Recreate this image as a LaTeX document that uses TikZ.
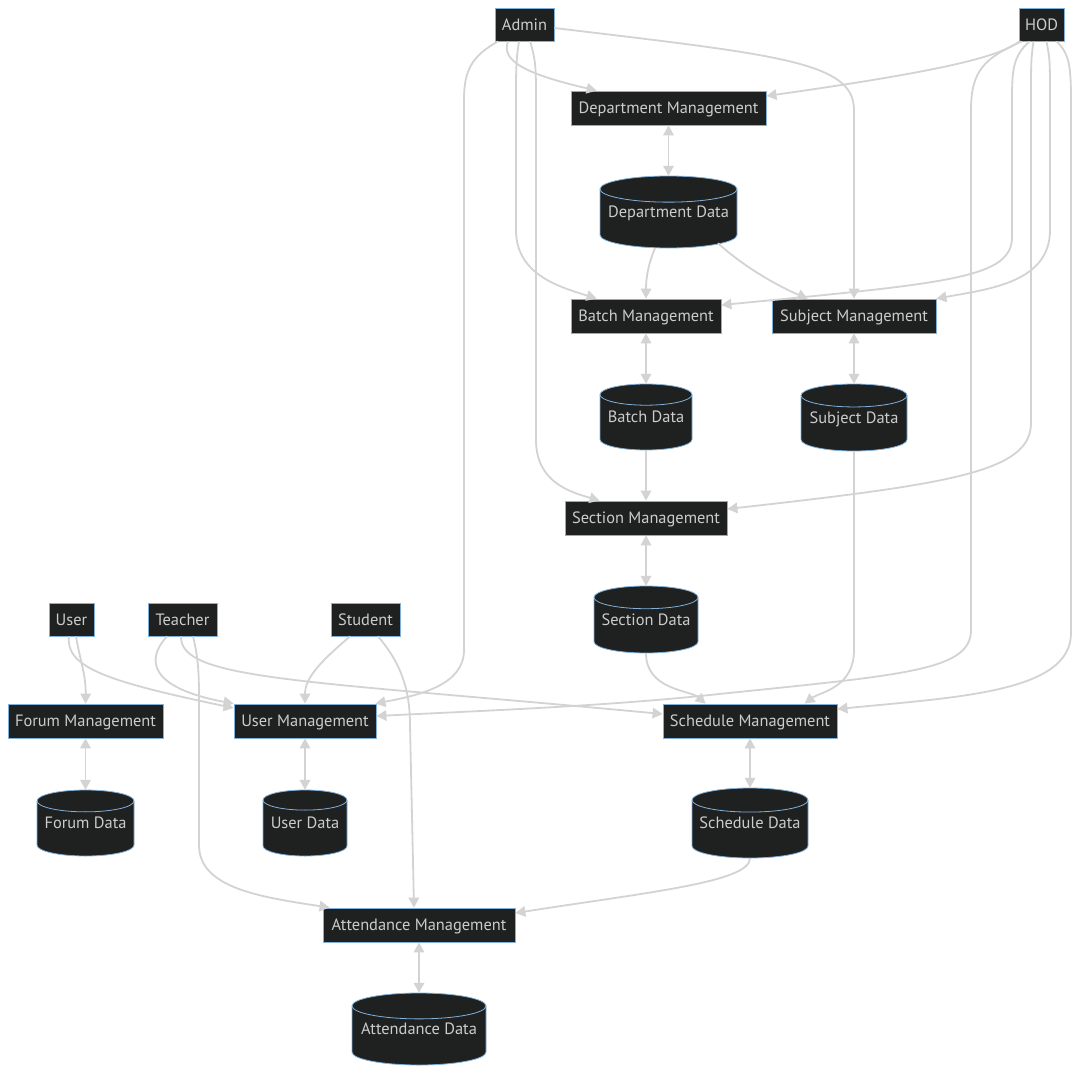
\documentclass[tikz,border=0pt]{standalone}
\usepackage{fontspec}
\setmainfont{PT Sans}
\usetikzlibrary{arrows.meta}
\definecolor{nodefill}{HTML}{1F2020}
\definecolor{nodeline}{HTML}{81B1DB}
\definecolor{txt}{HTML}{CCCCCC}
\definecolor{edgecol}{HTML}{D3D3D3}
\tikzset{
  lbl/.style={text=txt, font=\fontsize{16.4}{19}\selectfont, text height=15.5pt, text depth=4pt},
  proc/.style={lbl, draw=nodeline, fill=nodefill, line width=0.8pt, inner sep=0pt},
  dbbox/.style={lbl, inner sep=0pt},
  dbshape/.style={fill=nodefill, draw=nodeline, line width=0.8pt},
  tip/.tip={Triangle[length=10pt,width=10.5pt]},
  link/.style={draw=edgecol, line width=1.8pt, -tip},
  blink/.style={draw=edgecol, line width=1.8pt, tip-tip},
}
% name, x, y, w, h, text
\newcommand\procnode[6]{\node[proc, minimum width=#4pt, minimum height=#5pt] (#1) at (#2,#3) {#6};}
\newcommand\dbnode[6]{%
  \pgfmathsetmacro\dbry{(#4/2)/(2.5+#4/50)}%
  \pgfmathsetmacro\dbrx{#4/2}%
  \path[dbshape] ({#2-#4/2},{#3-#5/2+\dbry}) -- ({#2-#4/2},{#3+#5/2-\dbry})
     arc[start angle=180,end angle=360,x radius=\dbrx pt,y radius=\dbry pt]
     -- ({#2+#4/2},{#3-#5/2+\dbry})
     arc[start angle=0,end angle=180,x radius=\dbrx pt,y radius=\dbry pt] -- cycle;
  \draw[draw=nodeline, line width=0.8pt] ({#2-#4/2},{#3-#5/2+\dbry})
     arc[start angle=180,end angle=360,x radius=\dbrx pt,y radius=\dbry pt];
  \node[dbbox, minimum width=#4pt, minimum height=#5pt] (#1) at (#2,#3) {#6};}
\begin{document}
\begin{tikzpicture}[x=1pt,y=-1pt]
\useasboundingbox[fill=white] (0,0) rectangle (1079,1073);
% process nodes
\procnode{admin}{524.5}{24.5}{59}{33}{Admin}
\procnode{hod}{1041.5}{24.5}{45}{33}{HOD}
\procnode{dm}{668.5}{108}{195}{34}{Department Management}
\procnode{bm}{646}{316}{150}{34}{Batch Management}
\procnode{subjm}{854}{316}{164}{34}{Subject Management}
\procnode{secm}{646}{518}{162}{34}{Section Management}
\procnode{user}{71.5}{619.5}{45}{33}{User}
\procnode{teacher}{182.5}{619.5}{69}{33}{Teacher}
\procnode{student}{365.5}{619.5}{69}{33}{Student}
\procnode{fm}{85.5}{721}{155}{34}{Forum Management}
\procnode{um}{305}{721}{142}{34}{User Management}
\procnode{schm}{750}{721}{174}{34}{Schedule Management}
\procnode{am}{419}{925}{192}{34}{Attendance Management}
% data stores
\dbnode{dd}{668.5}{212}{137}{72}{Department Data}
\dbnode{bd}{646}{417}{92}{66}{Batch Data}
\dbnode{sd}{854}{417.5}{106}{67}{Subject Data}
\dbnode{secd}{646}{619.5}{104}{67}{Section Data}
\dbnode{fd}{85.5}{823}{97}{66}{Forum Data}
\dbnode{ud}{305}{823}{84}{66}{User Data}
\dbnode{schd}{750}{823}{116}{70}{Schedule Data}
\dbnode{ad}{419}{1029}{134}{72}{Attendance Data}
% Admin edges
\draw[link] ([xshift=-16.5pt]admin.south) .. controls (500,62) and (530,75) .. ([xshift=26pt]dm.north west);
\draw[link] ([xshift=-26.5pt]admin.south) .. controls (472,56) and (464,70) .. (464,100) -- (464,650) .. controls (464,685) and (420,695) .. ([xshift=-1pt]um.north east);
\draw[link] ([xshift=-5.5pt]admin.south) .. controls (516,60) and (516,70) .. (516,100) -- (516,230) .. controls (516,275) and (560,287) .. ([xshift=26pt]bm.north west);
\draw[link] ([xshift=5.5pt]admin.south) .. controls (536,60) and (536,70) .. (536,100) -- (536,440) .. controls (536,482) and (570,492) .. ([xshift=35pt]secm.north west);
\draw[link] ([yshift=-3.5pt]admin.east) .. controls (780,55) and (854,62) .. (854,110) -- (subjm.north);
% HOD edges
\draw[link] ([xshift=1pt]hod.south west) .. controls (1000,56) and (950,70) .. ([yshift=12pt]dm.east);
\draw[link] ([xshift=3pt]hod.south west) .. controls (985,58) and (971,70) .. (971,110) -- (971,630) .. controls (971,672) and (900,675) .. (700,696) .. controls (600,706) and (500,710) .. ([yshift=5pt]um.east);
\draw[link] ([xshift=-12pt]hod.south) .. controls (1013,56) and (1012,70) .. (1012,100) -- (1012,237) .. controls (1012,278) and (950,283) .. ([yshift=11pt]bm.east);
\draw[link] ([xshift=-8pt]hod.south) .. controls (1031,60) .. (1031,100) -- (1031,423) .. controls (1031,472) and (950,484) .. ([yshift=9pt]secm.east);
\draw[link] ([xshift=5pt]hod.south) .. controls (1050,60) .. (1050,100) -- (1050,230) .. controls (1050,282) and (990,289) .. (subjm.north east);
\draw[link] ([xshift=15pt]hod.south) .. controls (1071,55) and (1071,70) .. (1071,110) -- (1071,633) .. controls (1071,692) and (960,697) .. ([yshift=12pt]schm.east);
% data flows
\draw[blink] (dm.south) -- (dd.north);
\draw[link] ([xshift=-13.5pt]dd.south) .. controls (648,265) and (646,278) .. (bm.north);
\draw[link] ([xshift=49.5pt,yshift=5pt]dd.south) .. controls (745,268) and (780,287) .. ([xshift=36pt]subjm.north west);
\draw[blink] (bm.south) -- (bd.north);
\draw[blink] (subjm.south) -- (sd.north);
\draw[link] (bd.south) -- (secm.north);
\draw[blink] (secm.south) -- (secd.north);
\draw[link] (secd.south) .. controls (646,690) and (690,690) .. ([xshift=43pt]schm.north west);
\draw[link] (sd.south) -- (854,650) .. controls (854,688) and (820,692) .. ([xshift=142pt]schm.north west);
\draw[blink] (schm.south) -- (schd.north);
\draw[link] (schd.south) .. controls (750,882) and (650,892) .. ([yshift=12pt]am.east);
% user edges
\draw[link] ([xshift=4.5pt]user.south) .. controls (80,660) and (86,675) .. (fm.north);
\draw[link] ([xshift=-2.5pt]user.south) .. controls (65,668) and (110,682) .. ([yshift=13pt]um.west);
\draw[link] ([xshift=-15.5pt]teacher.south) .. controls (145,660) and (150,688) .. (um.north west);
\draw[link] ([xshift=-1.5pt]teacher.south) .. controls (180,680) and (300,680) .. ([yshift=7pt]schm.west);
\draw[link] ([xshift=10.5pt]teacher.south) .. controls (199,660) and (199,680) .. (199,700) -- (199,845) .. controls (199,888) and (260,897) .. ([xshift=7pt]am.north west);
\draw[link] ([xshift=-15.5pt]student.south) .. controls (320,662) and (305,678) .. (um.north);
\draw[link] ([xshift=12.5pt]student.south) .. controls (400,662) and (410,688) .. (410,725) -- ([xshift=-5pt]am.north);
\draw[blink] (am.south) -- (ad.north);
\draw[blink] (fm.south) -- (fd.north);
\draw[blink] (um.south) -- (ud.north);
\end{tikzpicture}
\end{document}
